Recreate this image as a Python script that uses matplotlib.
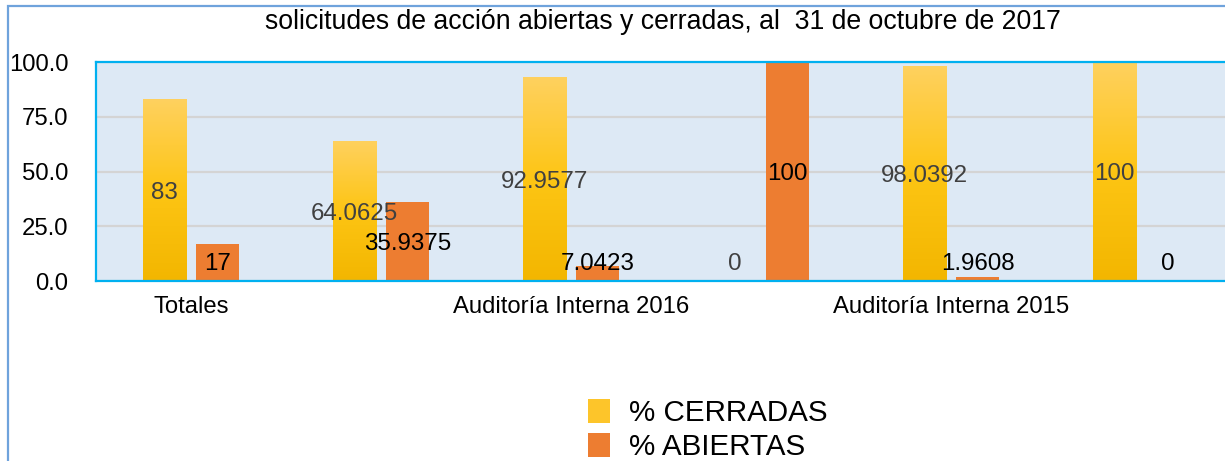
import numpy as np
import matplotlib
matplotlib.use("Agg")
import matplotlib.pyplot as plt
from matplotlib.patches import Rectangle
from matplotlib.colors import LinearSegmentedColormap
from matplotlib.ticker import FormatStrFormatter

# ==========================================
# Data
# ==========================================
categories = ["Totales", "", "Auditoría Interna 2016", "", "Auditoría Interna 2015", ""]
cerradas = [83, 64.0625, 92.9577, 0, 98.0392, 100]
abiertas = [17, 35.9375, 7.0423, 100, 1.9608, 0]
cerradas_labels = ["83", "64.0625", "92.9577", "0", "98.0392", "100"]
abiertas_labels = ["17", "35.9375", "7.0423", "100", "1.9608", "0"]
series_names = ["% CERRADAS", "% ABIERTAS"]
title = "solicitudes de acción abiertas y cerradas, al  31 de octubre de 2017"

# ==========================================
# Style
# ==========================================
plt.rcParams["font.family"] = ["Liberation Sans", "DejaVu Sans"]
W, H = 1225, 461
BAR_W = 0.23
OFFSET = 0.14
ORANGE = "#ed7d31"
YELLOW_MID = "#fdc52a"
LABEL_FS = 17.4
TICK_FS = 17.2
gold = LinearSegmentedColormap.from_list("gold", ["#f3b600", "#fdc514", "#ffd15f"])

fig = plt.figure(figsize=(W / 100, H / 100), dpi=100)
ax = fig.add_axes([96 / W, 1 - 281 / H, 1140 / W, 219 / H])
ax.set_facecolor("#dde9f5")

x = np.arange(len(categories))

# gradient bars for CERRADAS
grad = np.linspace(0, 1, 256).reshape(-1, 1)
bars_c = ax.bar(x - OFFSET, cerradas, BAR_W, color=YELLOW_MID, zorder=2,
                label=series_names[0], linewidth=0)
for b in bars_c:
    if b.get_height() <= 0:
        continue
    im = ax.imshow(grad, cmap=gold, origin="lower", aspect="auto",
                   extent=[b.get_x(), b.get_x() + b.get_width(), 0, b.get_height()],
                   zorder=2.1)
    im.set_clip_path(b)
bars_a = ax.bar(x + OFFSET, abiertas, BAR_W, color=ORANGE, zorder=2,
                label=series_names[1], linewidth=0)

# value labels, digits centred on the bar middle (with a floor for short bars)
def put_label(xpos, v, lab, color):
    ax.annotate(lab, (xpos, max(v / 2, 9.1)), xytext=(0, -0.358 * LABEL_FS),
                textcoords="offset points", ha="center", va="baseline",
                fontsize=LABEL_FS, color=color, zorder=4)

for xi, v, lab in zip(x, cerradas, cerradas_labels):
    put_label(xi - OFFSET, v, lab, "#404040")
for xi, v, lab in zip(x, abiertas, abiertas_labels):
    put_label(xi + OFFSET, v, lab, "black")

ax.set_xlim(-0.5, 5.5)
ax.set_ylim(0, 100)
ax.set_yticks([0, 25, 50, 75, 100])
ax.yaxis.set_major_formatter(FormatStrFormatter("%.1f"))
ax.set_xticks(x)
ax.set_xticklabels(categories)
ax.tick_params(axis="y", length=0, pad=20, labelsize=TICK_FS)
ax.tick_params(axis="x", length=0, pad=10.5, labelsize=TICK_FS)
ax.grid(axis="y", color="#d4d4d4", linewidth=1.6, zorder=1)
ax.set_axisbelow(True)
for s in ["left", "top", "bottom"]:
    ax.spines[s].set_color("#00b0f0")
    ax.spines[s].set_linewidth(1.6)
ax.spines["right"].set_visible(False)

fig.text(663 / W, 1 - 29 / H, title, ha="center", va="baseline",
         fontsize=19.2, color="black")

# outer chart frame
fig.add_artist(Rectangle((8 / W, -0.1), 2, 1 - 6 / H + 0.1, transform=fig.transFigure,
                         fill=False, edgecolor="#6fa3dc", linewidth=1.6))

fig.legend(handles=[bars_c, bars_a], labels=series_names, loc="upper left",
           bbox_to_anchor=(588 / W, 1 - 399 / H), frameon=False, fontsize=21.3,
           handlelength=0.76, handleheight=0.86, handletextpad=0.62,
           labelspacing=0.2, borderpad=0, borderaxespad=0)

fig.savefig("out.png", dpi=100)
